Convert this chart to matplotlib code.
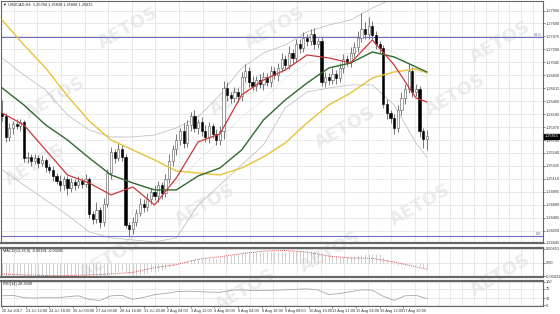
import matplotlib
matplotlib.use('Agg')
import matplotlib.pyplot as plt
import numpy as np

plt.rcParams['font.family'] = ['Liberation Sans', 'DejaVu Sans']

# ---------------- data ----------------
closes = [
    1.2615, 1.2580, 1.2595, 1.2602, 1.2598, 1.2605, 1.2545, 1.2548, 1.2540, 1.2545,
    1.2538, 1.2542, 1.2530, 1.2525, 1.2515, 1.2508, 1.2500, 1.2510, 1.2495, 1.2505,
    1.2500, 1.2508, 1.2503, 1.2510, 1.2452, 1.2445, 1.2460, 1.2440, 1.2470, 1.2520,
    1.2555, 1.2545, 1.2560, 1.2548, 1.2435, 1.2428, 1.2440, 1.2455, 1.2470, 1.2465,
    1.2478, 1.2490, 1.2482, 1.2500, 1.2488, 1.2510, 1.2540, 1.2560, 1.2575, 1.2590,
    1.2570, 1.2600, 1.2615, 1.2595, 1.2605, 1.2590, 1.2580, 1.2598, 1.2585, 1.2575,
    1.2590, 1.2662, 1.2650, 1.2645, 1.2655, 1.2648, 1.2680, 1.2690, 1.2672, 1.2665,
    1.2675, 1.2668, 1.2680, 1.2672, 1.2690, 1.2683, 1.2695, 1.2710, 1.2700, 1.2720,
    1.2712, 1.2735, 1.2728, 1.2745, 1.2740, 1.2752, 1.2735, 1.2740, 1.2672, 1.2680,
    1.2675, 1.2685, 1.2678, 1.2695, 1.2710, 1.2705, 1.2720, 1.2730, 1.2745, 1.2760,
    1.2752, 1.2765, 1.2750, 1.2735, 1.2728, 1.2635, 1.2620, 1.2612, 1.2595, 1.2625,
    1.2645, 1.2660, 1.2690, 1.2655, 1.2660, 1.2590, 1.2578, 1.2582,
]
first_open = 1.2620
upper_wick_pips = [
    22, 6, 8, 5, 9, 6, 4, 7, 5, 8,
    6, 9, 4, 6, 7, 5, 10, 6, 5, 8,
    6, 7, 5, 9, 4, 6, 12, 5, 10, 8,
    9, 6, 12, 7, 5, 4, 8, 6, 10, 7,
    9, 6, 11, 8, 6, 9, 12, 8, 10, 6,
    14, 9, 7, 11, 6, 8, 10, 7, 6, 9,
    8, 12, 10, 6, 9, 7, 8, 11, 6, 9,
    7, 10, 8, 6, 9, 7, 8, 10, 6, 11,
    7, 9, 8, 10, 6, 7, 9, 5, 6, 8,
    7, 10, 6, 9, 8, 7, 10, 9, 12, 26,
    11, 14, 8, 7, 5, 6, 8, 5, 7, 9,
    10, 8, 11, 6, 9, 5, 6, 10,
]
lower_wick_pips = [
    8, 7, 6, 9, 5, 7, 6, 8, 7, 5,
    9, 6, 7, 5, 8, 6, 9, 7, 10, 6,
    7, 5, 8, 6, 6, 9, 7, 10, 8, 6,
    9, 7, 5, 8, 6, 12, 8, 7, 6, 9,
    7, 8, 6, 9, 11, 7, 6, 8, 9, 7,
    8, 6, 9, 7, 10, 8, 7, 9, 6, 8,
    7, 12, 9, 8, 6, 10, 7, 8, 9, 7,
    8, 6, 9, 7, 8, 6, 9, 7, 8, 6,
    9, 7, 8, 6, 9, 7, 8, 6, 7, 9,
    8, 6, 9, 7, 8, 6, 9, 7, 8, 7,
    9, 8, 7, 9, 8, 6, 9, 8, 10, 7,
    8, 9, 7, 8, 6, 9, 15, 19,
]

ma_idx = [0, 6, 12, 18, 24, 30, 36, 42, 48, 54, 60, 66, 72, 78, 84, 90, 96, 102, 108, 114, 117]
ma_fast = [1.26204, 1.26005, 1.25590, 1.25175, 1.25042, 1.24843, 1.24976, 1.24677, 1.25125, 1.25723,
           1.25856, 1.26503, 1.26752, 1.26918, 1.27167, 1.27117, 1.27034, 1.27416, 1.27001, 1.26453, 1.26387]
ma_mid = [1.26619, 1.26337, 1.26005, 1.25756, 1.25457, 1.25175, 1.25042, 1.24926, 1.24926, 1.25158,
          1.25291, 1.25590, 1.26088, 1.26420, 1.26702, 1.26951, 1.27034, 1.27217, 1.27134, 1.26968, 1.26885]
ma_slow = [1.27748, 1.27333, 1.26951, 1.26486, 1.26071, 1.25756, 1.25590, 1.25424, 1.25241, 1.25208,
           1.25175, 1.25291, 1.25474, 1.25706, 1.26038, 1.26337, 1.26536, 1.26785, 1.26885, 1.26935, 1.26868]
bb_upper = [1.27117, 1.26835, 1.26586, 1.26171, 1.25922, 1.25806, 1.25806, 1.25839, 1.25955, 1.26138,
            1.26503, 1.26951, 1.27200, 1.27333, 1.27549, 1.27665, 1.27748, 1.27947, 1.28113, 1.28163, 1.28163]
bb_lower = [1.25258, 1.25009, 1.24760, 1.24511, 1.24229, 1.24130, 1.24096, 1.24063, 1.24130, 1.24677,
            1.25009, 1.25341, 1.25673, 1.26287, 1.26553, 1.26619, 1.26669, 1.26669, 1.26337, 1.25706, 1.25474]
bb_mid = [1.26204, 1.25922, 1.25673, 1.25341, 1.25075, 1.24926, 1.24959, 1.24959, 1.25042, 1.25407,
          1.25756, 1.26138, 1.26420, 1.26785, 1.27034, 1.27134, 1.27200, 1.27300, 1.27217, 1.26918, 1.26785]

macd_hist_pips = [
    -38, -40, -41, -40, -39, -38, -42, -44, -45, -45,
    -45, -44, -44, -44, -44, -44, -44, -43, -43, -42,
    -41, -40, -39, -38, -42, -45, -45, -46, -44, -38,
    -32, -29, -25, -23, -30, -35, -37, -37, -36, -35,
    -33, -30, -28, -25, -23, -19, -14, -9, -4, 1,
    3, 7, 11, 12, 14, 14, 14, 15, 15, 14,
    15, 21, 24, 26, 28, 29, 32, 34, 35, 35,
    35, 35, 35, 34, 35, 35, 35, 36, 36, 37,
    37, 38, 38, 39, 39, 39, 38, 38, 32, 27,
    23, 21, 19, 19, 19, 20, 21, 23, 25, 27,
    28, 30, 30, 29, 28, 20, 12, 5, -2, -5,
    -6, -6, -3, -4, -4, -10, -15, -19,
]
macd_signal_pips = [-35, -38, -40, -40, -38, -35, -30, -15, -5, 12, 20, 30, 38, 40, 35, 22, 16, 15, 3, -12, -20]

rsi_idx = list(range(0, 118, 3))
rsi_vals = [40, 42, 32, 30, 33, 31, 36, 40, 24, 20,
            40, 42, 25, 33, 45, 50, 58, 60, 58, 56,
            55, 64, 66, 62, 63, 64, 66, 68, 70, 66,
            45, 50, 58, 66, 64, 38, 20, 40, 42, 28]

price_ticks = [1.27900, 1.27690, 1.27475, 1.27260, 1.27045, 1.26830, 1.26615, 1.26400, 1.26185, 1.25970,
               1.25755, 1.25540, 1.25325, 1.25110, 1.24895, 1.24680, 1.24465, 1.24250, 1.24045]
fib_levels = [1.27466, 1.24164]
fib_labels = ['23.6', '0.0']
last_price = 1.25815
macd_ticks = [0.00453, 0.0, -0.00431]
macd_tick_labels = ['0.00453', '0.00', '-0.00431']
rsi_ticks = [100, 70, 30, 0]
x_tick_labels = ["20 Jul 2017", "21 Jul 12:00", "24 Jul 16:00", "26 Jul 00:00", "27 Jul 08:00",
                 "28 Jul 16:00", "31 Jul 20:00", "2 Aug 04:00", "3 Aug 12:00", "4 Aug 20:00",
                 "8 Aug 04:00", "8 Aug 16:00", "9 Aug 08:00", "10 Aug 16:00", "13 Aug 21:00",
                 "15 Aug 04:00", "16 Aug 12:00", "17 Aug 20:00"]

# ---------------- figure ----------------
W, H = 560, 314
fig = plt.figure(figsize=(5.6, 3.14), dpi=100)
fig.patch.set_facecolor('white')

def rect(x0, y0, x1, y1):
    return [x0 / W, 1 - y1 / H, (x1 - x0) / W, (y1 - y0) / H]

ax = fig.add_axes(rect(1, 1, 543, 243))
ax2 = fig.add_axes(rect(1, 248, 543, 277), sharex=ax)
ax3 = fig.add_axes(rect(1, 281, 543, 306), sharex=ax)

FS = 2.8
grid_c = '#e0e0e0'
n = len(closes)
x = np.arange(n)
tick_pos = np.arange(len(x_tick_labels)) * 6.5
grid_pos = np.arange(0, 150, 3.25)

for a in (ax, ax2, ax3):
    a.set_facecolor('none')
    a.yaxis.tick_right()
    for s in a.spines.values():
        s.set_color('#666666')
        s.set_linewidth(0.8)
    a.tick_params(axis='both', labelsize=FS, length=1.5, width=0.4, colors='#333333', pad=0.6)
    a.set_xticks(grid_pos, minor=True)
    a.grid(True, which='minor', axis='x', color=grid_c, lw=0.5)
    a.grid(True, which='major', axis='y', color=grid_c, lw=0.5)
    a.tick_params(axis='x', which='minor', length=0)
    a.set_axisbelow(True)

ax.spines['bottom'].set_linewidth(1.6)
ax2.spines['top'].set_linewidth(1.6)
ax2.spines['bottom'].set_linewidth(1.6)
ax3.spines['top'].set_linewidth(1.6)

# watermarks (behind everything)
wm_pos = [(128, 28), (275, 28), (500, 42), (55, 98), (240, 95), (455, 95), (345, 128),
          (35, 165), (205, 205), (420, 205), (330, 252), (110, 258), (500, 275), (245, 290)]
for px, py in wm_pos:
    fig.text(px / W, 1 - py / H, 'AETOS', rotation=30, fontsize=13, fontweight='bold',
             family='DejaVu Sans', color='#ececec', ha='center', va='center', zorder=-1)

# candles
opens = [first_open] + closes[:-1]
highs = [max(o, c) + u * 1e-4 for o, c, u in zip(opens, closes, upper_wick_pips)]
lows = [min(o, c) - l * 1e-4 for o, c, l in zip(opens, closes, lower_wick_pips)]
ax.vlines(x, lows, highs, color='#444444', lw=0.5, zorder=2)
for i in range(n):
    o, c = opens[i], closes[i]
    h = max(abs(c - o), 0.00008)
    if c >= o:
        ax.bar(i, h, bottom=min(o, c), width=0.6, facecolor='white', edgecolor='#555555', lw=0.4, zorder=3)
    else:
        ax.bar(i, h, bottom=min(o, c), width=0.6, facecolor='black', edgecolor='black', lw=0.4, zorder=3)

# indicators
ax.plot(ma_idx, bb_upper, color='#b8b8b8', lw=0.5, zorder=1.5)
ax.plot(ma_idx, bb_lower, color='#b8b8b8', lw=0.5, zorder=1.5)
ax.plot(ma_idx, bb_mid, color='#bdbdbd', lw=0.5, ls=(0, (1, 1.5)), zorder=1.5)
ax.plot(ma_idx, ma_slow, color='#e8c23a', lw=1.0, zorder=4)
ax.plot(ma_idx, ma_mid, color='#2f6b2f', lw=1.0, zorder=4)
ax.plot(ma_idx, ma_fast, color='#c83a3a', lw=0.9, zorder=4)

for lvl, lab in zip(fib_levels, fib_labels):
    ax.axhline(lvl, color='#7070c0', lw=0.8, zorder=2)
    ax.text(148.5, lvl, lab, color='#6060b0', fontsize=FS, ha='right', va='bottom')

ax.set_xlim(-0.3, 149)
ax.set_ylim(1.24046, 1.28063)
ax.set_yticks(price_ticks)
ax.set_yticklabels([f'{v:.5f}' for v in price_ticks])
ax.tick_params(axis='x', which='both', bottom=False, labelbottom=False)
ax.annotate(f'{last_price:.5f}', xy=(1.0, last_price), xycoords=('axes fraction', 'data'),
            xytext=(1.2, 0), textcoords='offset points', fontsize=FS, color='white', va='center',
            ha='left', bbox=dict(boxstyle='square,pad=0.15', fc='black', ec='black'),
            annotation_clip=False, zorder=10)
ax.text(0.004, 0.995, '\u25bc USDCAD,H4  1.25784 1.25838 1.25688 1.25815', transform=ax.transAxes,
        fontsize=FS, color='#222222', ha='left', va='top')

# MACD
ax2.vlines(x, 0, [v * 1e-4 for v in macd_hist_pips], color='#bcbcbc', lw=0.5, zorder=2)
ax2.plot(ma_idx, [v * 1e-4 for v in macd_signal_pips], color='#d05a5a', lw=0.7, ls=(0, (1, 1)), zorder=3)
ax2.set_ylim(-0.00448, 0.0048)
ax2.set_yticks(macd_ticks)
ax2.set_yticklabels(macd_tick_labels)
ax2.tick_params(axis='x', which='both', bottom=False, labelbottom=False)
ax2.text(0.004, 0.97, 'MACD(12,26,9) -0.00191 -0.00205', transform=ax2.transAxes,
         fontsize=FS, color='#222222', ha='left', va='top')

# RSI
ax3.plot(rsi_idx, rsi_vals, color='#a8a8a8', lw=0.6, zorder=2)
ax3.set_ylim(-4, 104)
ax3.set_yticks(rsi_ticks)
ax3.set_yticklabels([str(v) for v in rsi_ticks])
ax3.set_xticks(tick_pos)
ax3.set_xticklabels(x_tick_labels, ha='left')
ax3.tick_params(axis='x', which='major', length=1.5)
ax3.text(0.004, 0.97, 'RSI(14) 28.3949', transform=ax3.transAxes,
         fontsize=FS, color='#222222', ha='left', va='top')

fig.savefig('out.png', dpi=100)
